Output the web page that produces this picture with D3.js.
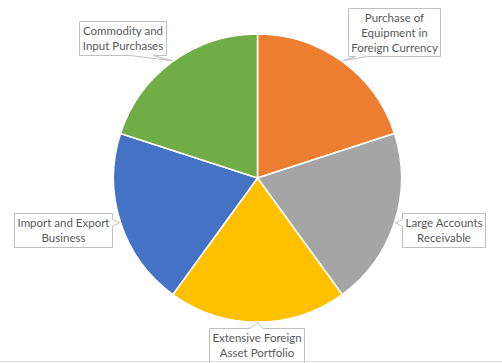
<!DOCTYPE html>
<html><head><meta charset="utf-8">
<script src="https://cdn.jsdelivr.net/npm/d3@7"></script>
<style>html,body{margin:0;padding:0;background:#fff;}svg{display:block;}</style>
</head><body>
<svg id="chart" width="502" height="363"></svg>
<script>
// Data
const categories = ["Purchase of Equipment in Foreign Currency", "Large Accounts Receivable", "Extensive Foreign Asset Portfolio", "Import and Export Business", "Commodity and Input Purchases"];
const values = [1, 1, 1, 1, 1];
const labelLines = [["Purchase of","Equipment in","Foreign Currency"],["Large Accounts","Receivable"],["Extensive Foreign","Asset Portfolio"],["Import and Export","Business"],["Commodity and","Input Purchases"]];
const colors = ["#ED7D31", "#A5A5A5", "#FFC000", "#4472C4", "#70AD47"];

// Layout
const W = 502, H = 363, cx = 257.5, cy = 178, R = 144;
// Box layout relative to callout tip: [dx0, dy0, width, height, side, baseA, baseB]
const boxLayout = [
  {dx: 5, dy: -53, w: 92, h: 48, side: "bottom", a: 7, b: 19},
  {dx: 7, dy: -10, w: 83, h: 34, side: "left", a: 6, b: 13},
  {dx: -49, dy: 5, w: 95, h: 50, side: "top", a: 40, b: 54},
  {dx: -106, dy: -10, w: 98, h: 34, side: "right", a: 6, b: 13},
  {dx: -93, dy: -40, w: 87, h: 34, side: "bottom", a: 51, b: 74}
];

const svg = d3.select("#chart");
const g = svg.append("g").attr("transform", `translate(${cx},${cy})`);
const pie = d3.pie().sort(null).value(d => d)(values);
const arc = d3.arc().innerRadius(0).outerRadius(R);

g.selectAll("path.slice").data(pie).join("path")
  .attr("class", "slice")
  .attr("d", arc)
  .attr("fill", (d, i) => colors[i])
  .attr("stroke", "#fff").attr("stroke-width", 1.5);

function calloutPath(x0, y0, x1, y1, L, tx, ty) {
  const A = L.a, B = L.b;
  if (L.side === "bottom") return `M${x0},${y0}H${x1}V${y1}H${x0+B}L${tx},${ty}L${x0+A},${y1}H${x0}Z`;
  if (L.side === "top") return `M${x0},${y0}H${x0+A}L${tx},${ty}L${x0+B},${y0}H${x1}V${y1}H${x0}Z`;
  if (L.side === "right") return `M${x0},${y0}H${x1}V${y0+A}L${tx},${ty}L${x1},${y0+B}V${y1}H${x0}Z`;
  return `M${x0},${y0}H${x1}V${y1}H${x0}V${y0+B}L${tx},${ty}L${x0},${y0+A}Z`;
}

const labels = svg.append("g");
pie.forEach((d, i) => {
  const mid = (d.startAngle + d.endAngle) / 2;
  const tx = cx + (R + 1) * Math.sin(mid);
  const ty = cy - (R + 1) * Math.cos(mid);
  const L = boxLayout[i];
  const x0 = Math.round(tx + L.dx) + 0.5, y0 = Math.round(ty + L.dy) + 0.5;
  const x1 = x0 + L.w, y1 = y0 + L.h;
  labels.append("path")
    .attr("d", calloutPath(x0, y0, x1, y1, L, tx, ty))
    .attr("fill", "#fff").attr("stroke", "#BFBFBF").attr("stroke-width", 1);
  const lines = labelLines[i];
  const t = labels.append("text")
    .attr("x", (x0 + x1) / 2)
    .attr("text-anchor", "middle")
    .attr("font-family", "Lato, 'Open Sans', sans-serif")
    .attr("font-size", "11.5px")
    .attr("fill", "#595959");
  lines.forEach((ln, k) => {
    t.append("tspan").attr("x", (x0 + x1) / 2).attr("y", y0 + 13.5 + k * 15).text(ln);
  });
});

// bottom border line
svg.append("line").attr("x1", 0).attr("x2", W).attr("y1", 361.5).attr("y2", 361.5)
  .attr("stroke", "#D9D9D9").attr("stroke-width", 1);
</script>
</body></html>
